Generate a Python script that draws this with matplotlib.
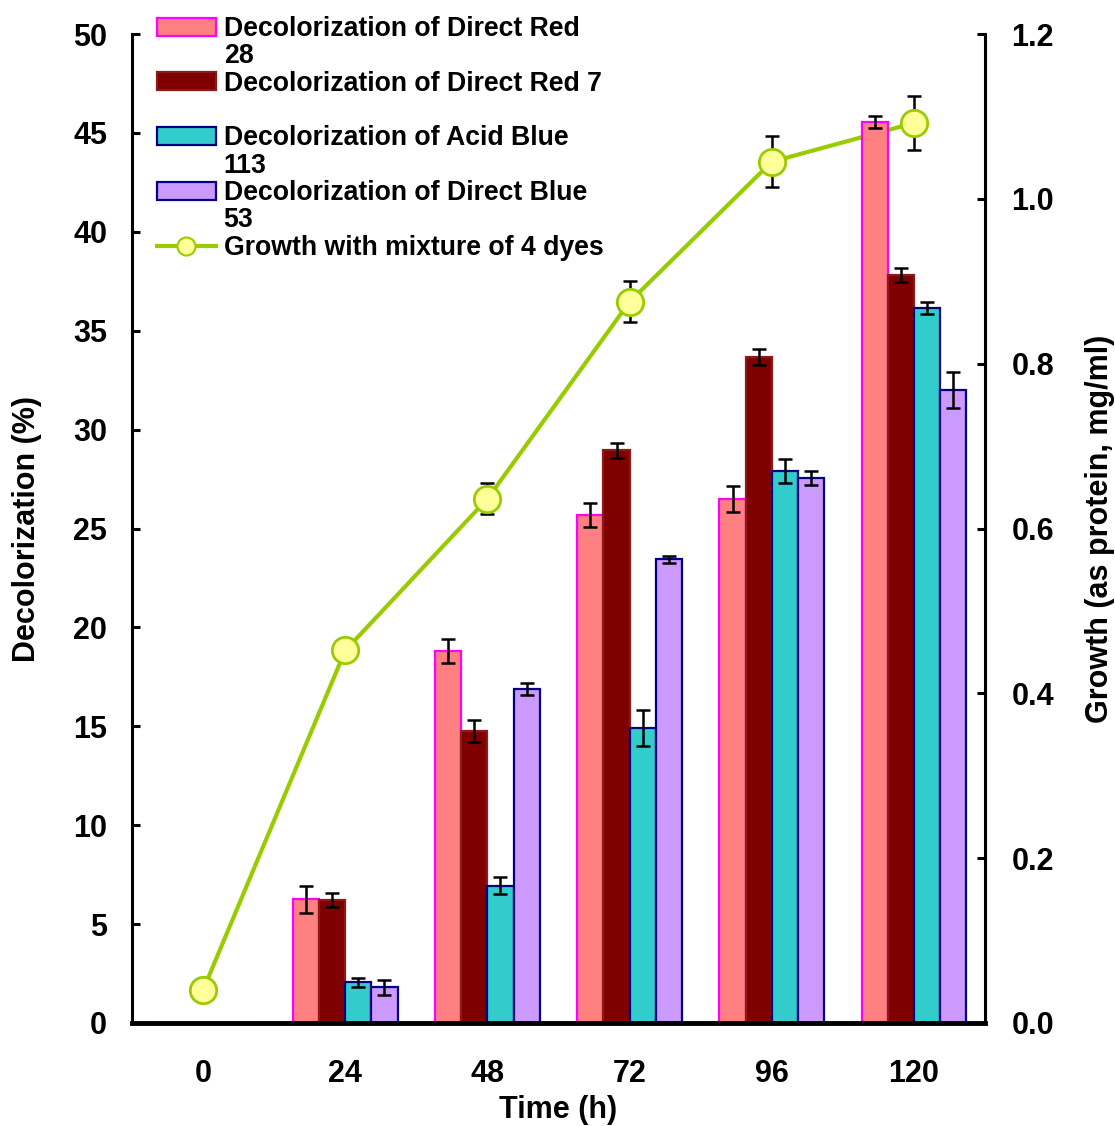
import numpy as np
import matplotlib
matplotlib.use("Agg")
import matplotlib.pyplot as plt
from matplotlib.patches import Patch
from matplotlib.lines import Line2D
from matplotlib.ticker import FormatStrFormatter

plt.rcParams['font.family'] = ['Liberation Sans', 'DejaVu Sans']
plt.rcParams['font.weight'] = 'bold'

# ---- data ----
times = ["0", "24", "48", "72", "96", "120"]
dr28 = [0, 6.25, 18.8, 25.7, 26.5, 45.55]
dr28_err = [0, 0.7, 0.6, 0.6, 0.65, 0.3]
dr7 = [0, 6.2, 14.75, 28.95, 33.65, 37.8]
dr7_err = [0, 0.35, 0.55, 0.38, 0.4, 0.36]
ab113 = [0, 2.05, 6.95, 14.9, 27.9, 36.15]
ab113_err = [0, 0.25, 0.45, 0.9, 0.6, 0.3]
db53 = [0, 1.8, 16.9, 23.45, 27.55, 32.0]
db53_err = [0, 0.38, 0.3, 0.17, 0.35, 0.9]
growth = [0.040, 0.452, 0.636, 0.875, 1.045, 1.092]
growth_err = [0, 0, 0.019, 0.025, 0.031, 0.033]

labels = ["Decolorization of Direct Red", "Decolorization of Direct Red 7",
          "Decolorization of Acid Blue", "Decolorization of Direct Blue"]
label_tails = ["28", " ", "113", "53"]
growth_label = "Growth with mixture of 4 dyes"

faces = ["#FF8080", "#800000", "#33CCCC", "#CC99FF"]
edges = ["#FF00FF", "#8B1A1A", "#000080", "#000080"]

fig = plt.figure(figsize=(11.15, 11.26), dpi=100)
ax = fig.add_axes([132/1115, 1-1023/1126, 853/1115, 989/1126])
ax2 = ax.twinx()
ax.set_zorder(ax2.get_zorder() + 1)
ax.patch.set_visible(False)

x = np.arange(len(times))
w = 0.184
series = [(dr28, dr28_err), (dr7, dr7_err), (ab113, ab113_err), (db53, db53_err)]
for i, (vals, errs) in enumerate(series):
    vals = np.array(vals, float)
    errs = np.array(errs, float)
    pos = x + (i - 1.5) * w
    ax.bar(pos, vals, w, color=faces[i], edgecolor=edges[i], linewidth=1.6, zorder=2)
    m = errs > 0
    ax.errorbar(pos[m], vals[m], yerr=errs[m], fmt='none', ecolor='black',
                elinewidth=1.8, capsize=5, capthick=1.8, zorder=3)

g = np.array(growth)
ge = np.array(growth_err)
m = ge > 0
ax2.errorbar(x[m], g[m], yerr=ge[m], fmt='none', ecolor='black',
             elinewidth=1.8, capsize=5, capthick=1.8, zorder=1)
ax2.plot(x, g, color='#99CC00', lw=3, marker='o', markersize=19,
         markerfacecolor='#FFFF99', markeredgecolor='#99CC00', markeredgewidth=2, zorder=2)

ax.set_xlim(-0.5, len(times) - 0.5)
ax.set_ylim(0, 50)
ax2.set_ylim(0, 1.2)
ax.set_xticks(x)
ax.set_xticklabels(times)
ax.set_yticks(np.arange(0, 51, 5))
ax2.set_yticks(np.arange(0, 1.21, 0.2))
ax2.yaxis.set_major_formatter(FormatStrFormatter('%.1f'))

for a in (ax, ax2):
    a.spines['top'].set_visible(False)
ax.spines['left'].set_linewidth(2.2)
ax.spines['bottom'].set_linewidth(3.5)
ax.spines['right'].set_visible(False)
ax2.spines['left'].set_visible(False)
ax2.spines['bottom'].set_visible(False)
ax2.spines['right'].set_linewidth(2.2)

ax.tick_params(axis='y', direction='in', length=6, width=2.2, labelsize=22, pad=18)
ax.tick_params(axis='x', length=0, labelsize=22, pad=26)
ax2.tick_params(axis='y', direction='in', length=6, width=2.2, labelsize=22, pad=19)

ax.set_xlabel("Time (h)", fontsize=22, fontweight='bold', labelpad=4)
ax.set_ylabel("Decolorization (%)", fontsize=22, fontweight='bold', labelpad=22)
ax2.set_ylabel("Growth (as protein, mg/ml)", fontsize=22, fontweight='bold', labelpad=22)

blank = Line2D([], [], linestyle='none')
handles = []
leg_labels = []
for i in range(4):
    handles.append(Patch(facecolor=faces[i], edgecolor=edges[i], linewidth=1.6))
    leg_labels.append(labels[i])
    handles.append(blank)
    leg_labels.append(label_tails[i])
handles.append(Line2D([], [], color='#99CC00', lw=3, marker='o', markersize=13,
                      markerfacecolor='#FFFF99', markeredgecolor='#99CC00', markeredgewidth=1.5))
leg_labels.append(growth_label)

leg = ax.legend(handles, leg_labels, loc='upper left',
                bbox_to_anchor=(157/1115, 1-16/1126), bbox_transform=fig.transFigure,
                frameon=False, fontsize=19.2, borderpad=0, borderaxespad=0,
                handlelength=2.2, handleheight=0.65, handletextpad=0.3,
                labelspacing=0.05)
leg.set_zorder(10)

fig.savefig("out.png", dpi=100)
